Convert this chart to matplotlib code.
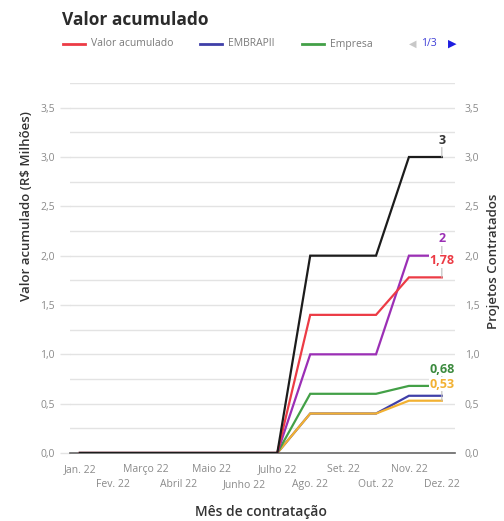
import matplotlib
matplotlib.use("Agg")
import matplotlib.pyplot as plt
import matplotlib.transforms as mtransforms
from matplotlib.lines import Line2D
from matplotlib.ticker import MultipleLocator, FuncFormatter

# --- Data ---
MONTHS = ["Jan. 22", "Fev. 22", "Março 22", "Abril 22", "Maio 22", "Junho 22",
          "Julho 22", "Ago. 22", "Set. 22", "Out. 22", "Nov. 22", "Dez. 22"]
valor_acumulado = [0, 0, 0, 0, 0, 0, 0, 1.40, 1.40, 1.40, 1.78, 1.78]
embrapii = [0, 0, 0, 0, 0, 0, 0, 0.40, 0.40, 0.40, 0.58, 0.58]
empresa = [0, 0, 0, 0, 0, 0, 0, 0.60, 0.60, 0.60, 0.68, 0.68]
contrapartida = [0, 0, 0, 0, 0, 0, 0, 0.40, 0.40, 0.40, 0.53, 0.53]
projetos_total = [0, 0, 0, 0, 0, 0, 0, 2, 2, 2, 3, 3]
projetos_parcial = [0, 0, 0, 0, 0, 0, 0, 1, 1, 1, 2, 2]

# --- Style ---
FONT = ["Open Sans", "DejaVu Sans"]
plt.rcParams["font.family"] = FONT
C_RED = "#ec3b45"
C_BLUE = "#3f3fa8"
C_GREEN = "#43a047"
C_YELLOW = "#f2b132"
C_BLACK = "#1c1c1c"
C_PURPLE = "#9b2fb5"
GRID = "#e3e3e3"
TICK_TXT = "#8a8a8a"

W, H = 504, 521
fig = plt.figure(figsize=(W / 100, H / 100), dpi=100)
ax = fig.add_axes([70 / W, 1 - 453 / H, 385 / W, 370 / H])

x = list(range(len(MONTHS)))
series = [
    (embrapii, C_BLUE),
    (contrapartida, C_YELLOW),
    (empresa, C_GREEN),
    (projetos_parcial, C_PURPLE),
    (valor_acumulado, C_RED),
    (projetos_total, C_BLACK),
]
for i, (vals, col) in enumerate(series):
    ax.plot(x, vals, color=col, lw=1.6, zorder=3 + i, solid_joinstyle="miter")

ax.set_xlim(-0.3, 11.4)
ax.set_ylim(0, 3.75)

# gridlines
ax.yaxis.set_major_locator(MultipleLocator(0.5))
ax.yaxis.set_minor_locator(MultipleLocator(0.25))
ax.grid(axis="y", which="both", color=GRID, lw=1, zorder=0)
ax.set_axisbelow(True)
for s in ["top", "right", "left"]:
    ax.spines[s].set_visible(False)
ax.spines["bottom"].set_color("#666666")
ax.spines["bottom"].set_linewidth(1.2)

comma = FuncFormatter(lambda v, p: f"{v:.1f}".replace(".", ","))
ax.yaxis.set_major_formatter(comma)
ax.tick_params(axis="y", which="major", length=7, width=1, color=GRID,
               labelsize=7.5, labelcolor=TICK_TXT, pad=4)
ax.tick_params(axis="y", which="minor", length=0)
ax.yaxis.get_major_ticks()[0].tick1line.set_color("#666666")

# right axis (Projetos Contratados), same scale
ax2 = ax.twinx()
ax2.set_ylim(ax.get_ylim())
ax2.yaxis.set_major_locator(MultipleLocator(0.5))
ax2.yaxis.set_major_formatter(comma)
ax2.tick_params(axis="y", length=0, labelsize=7.5, labelcolor=TICK_TXT, pad=7)
for s in ax2.spines.values():
    s.set_visible(False)

# staggered month labels, drawn as texts so both rows share a baseline
ax.set_xticks(x)
ax.tick_params(axis="x", length=0, labelbottom=False)
xaxis_trans = mtransforms.blended_transform_factory(ax.transData, ax.transAxes)
for i, month in enumerate(MONTHS):
    drop = 19 if i % 2 == 0 else 34
    tr = mtransforms.offset_copy(xaxis_trans, fig=fig, y=-drop * 72 / 100, units="points")
    ax.text(x[i], 0, month, transform=tr, ha="center", va="baseline",
            fontsize=7.5, color=TICK_TXT, clip_on=False)

# end labels
end_labels = [
    (projetos_total, "3", "#333333"),
    (projetos_parcial, "2", C_PURPLE),
    (valor_acumulado, "1,78", C_RED),
    (empresa, "0,68", "#3b8a3e"),
    (contrapartida, "0,53", C_YELLOW),
]
for i, (vals, txt, col) in enumerate(end_labels):
    ax.annotate(txt, (x[-1], vals[-1]), xytext=(0, 12), textcoords="offset points",
                ha="center", va="center", fontsize=9, fontweight="bold", color=col,
                bbox=dict(boxstyle="square,pad=0.05", fc="white", ec="none"),
                arrowprops=dict(arrowstyle="-", color="#bbbbbb", lw=0.8,
                                shrinkA=0, shrinkB=0),
                zorder=20 + i)

# axis titles
fig.text(27 / W, 1 - 206 / H, "Valor acumulado (R$ Milhões)", rotation=90,
         ha="center", va="center", fontsize=9.5, fontweight="semibold", color="#333333")
fig.text(494 / W, 1 - 261 / H, "Projetos Contratados", rotation=90,
         ha="center", va="center", fontsize=9.5, fontweight="semibold", color="#333333")
fig.text(261 / W, 1 - 512 / H, "Mês de contratação", ha="center", va="center",
         fontsize=10, fontweight="semibold", color="#333333")

# title
fig.text(62 / W, 1 - 20 / H, "Valor acumulado", ha="left", va="center",
         fontsize=12.5, fontweight="bold", color="#2b2b2b")

# legend (manual, page 1 of 3)
legend_items = [("Valor acumulado", C_RED, 63), ("EMBRAPII", C_BLUE, 200),
                ("Empresa", C_GREEN, 302)]
ly = 1 - 44 / H
for label, col, x0 in legend_items:
    fig.add_artist(Line2D([x0 / W, (x0 + 22) / W], [ly, ly], color=col, lw=2,
                          transform=fig.transFigure))
    fig.text((x0 + 28) / W, ly, label, ha="left", va="center", fontsize=7.5,
             color="#7a7a7a")
fig.text(413 / W, ly, "◀", ha="center", va="center", fontsize=7, color="#c8c8c8",
         family=["DejaVu Sans"])
fig.text(429 / W, ly, "1/3", ha="center", va="center", fontsize=7.5, color="#3b3bd6")
fig.text(452 / W, ly, "▶", ha="center", va="center", fontsize=8, color="#1d1de0",
         family=["DejaVu Sans"])

fig.savefig("out.png", dpi=100, facecolor="white")
